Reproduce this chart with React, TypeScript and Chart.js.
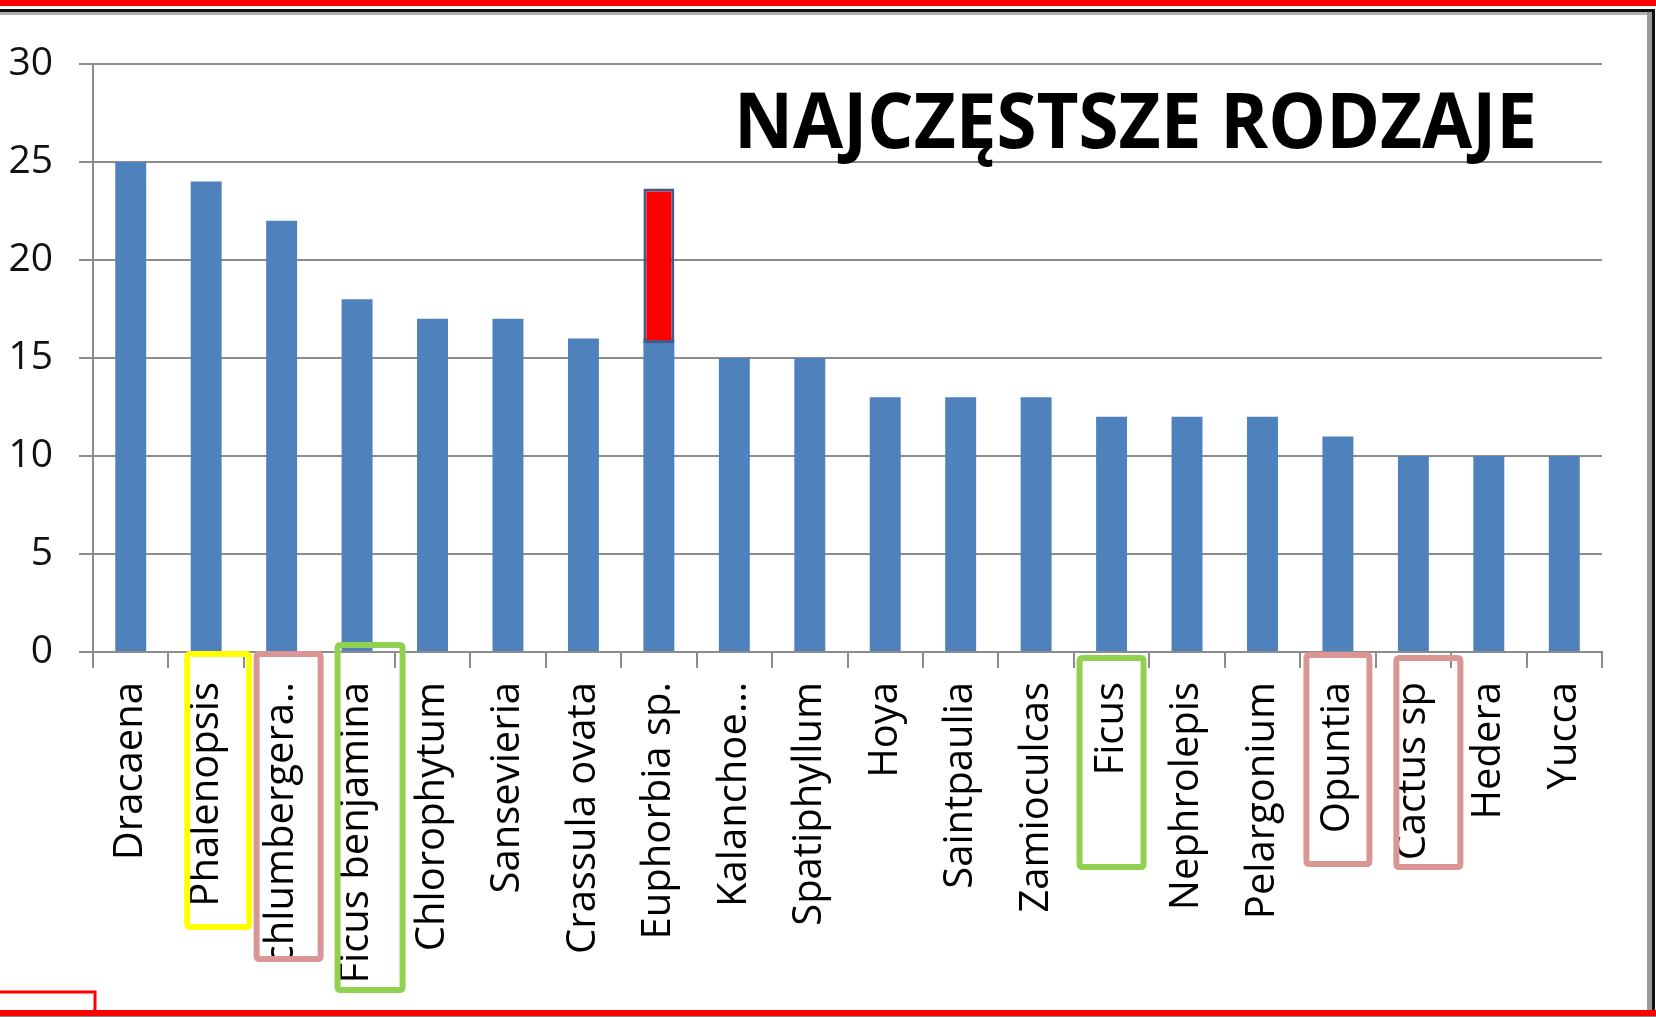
import React, { useEffect, useRef } from 'react';
import { Chart, registerables } from 'chart.js';

Chart.register(...registerables);

// ---- data ----
const categories = [
  'Dracaena',
  'Phalenopsis',
  'Schlumbergera..',
  'Ficus benjamina',
  'Chlorophytum',
  'Sansevieria',
  'Crassula ovata',
  'Euphorbia sp.',
  'Kalanchoe…',
  'Spatiphyllum',
  'Hoya',
  'Saintpaulia',
  'Zamioculcas',
  'Ficus',
  'Nephrolepis',
  'Pelargonium',
  'Opuntia',
  'Cactus sp',
  'Hedera',
  'Yucca',
];
const counts = [25, 24, 22, 18, 17, 17, 16, 16, 15, 15, 13, 13, 13, 12, 12, 12, 11, 10, 10, 10];
const highlightIndex = 7;
const highlightRange: [number, number] = [15.75, 23.65];
const yMin = 0;
const yMax = 30;
const yStep = 5;
const titleText = 'NAJCZĘSTSZE RODZAJE';

// annotation boxes around some category labels (index, colour, offset/size in px)
const labelBoxes = [
  { index: 1, color: '#ffff00', dx: 12, w: 68, top: 651, bottom: 930, mask: false },
  { index: 2, color: '#d99694', dx: 7, w: 70, top: 651, bottom: 962, mask: true },
  { index: 3, color: '#92d050', dx: 13, w: 71, top: 642, bottom: 993, mask: false },
  { index: 13, color: '#92d050', dx: 0, w: 70, top: 655, bottom: 870, mask: false },
  { index: 16, color: '#d99694', dx: 0, w: 69, top: 652, bottom: 867, mask: false },
  { index: 17, color: '#d99694', dx: 15, w: 70, top: 655, bottom: 870, mask: false },
];

const W = 1656;
const H = 1017;
const FONT = "'Open Sans', 'DejaVu Sans', sans-serif";

function roundRectPath(ctx: CanvasRenderingContext2D, x: number, y: number, w: number, h: number, r: number) {
  ctx.beginPath();
  ctx.moveTo(x + r, y);
  ctx.lineTo(x + w - r, y);
  ctx.quadraticCurveTo(x + w, y, x + w, y + r);
  ctx.lineTo(x + w, y + h - r);
  ctx.quadraticCurveTo(x + w, y + h, x + w - r, y + h);
  ctx.lineTo(x + r, y + h);
  ctx.quadraticCurveTo(x, y + h, x, y + h - r);
  ctx.lineTo(x, y + r);
  ctx.quadraticCurveTo(x, y, x + r, y);
  ctx.closePath();
}

const decorPlugin = {
  id: 'decor',
  afterDraw(chart: any) {
    const ctx: CanvasRenderingContext2D = chart.ctx;
    const xs = chart.scales.x;

    // title
    ctx.save();
    ctx.font = `700 77px ${FONT}`;
    const tw = ctx.measureText(titleText).width;
    ctx.translate(734, 148);
    ctx.scale(803 / tw, 1);
    ctx.fillStyle = '#000000';
    ctx.textAlign = 'left';
    ctx.textBaseline = 'alphabetic';
    ctx.fillText(titleText, 0, 0);
    ctx.restore();

    // label highlight boxes
    ctx.save();
    for (const b of labelBoxes) {
      const cx = xs.getPixelForValue(b.index) + b.dx;
      const x0 = cx - b.w / 2;
      if (b.mask) {
        ctx.fillStyle = '#ffffff';
        ctx.fillRect(x0, b.bottom - 6, b.w, 40);
      }
      ctx.lineWidth = 6;
      ctx.strokeStyle = b.color;
      roundRectPath(ctx, x0 + 3, b.top + 3, b.w - 6, b.bottom - b.top - 6, 3);
      ctx.stroke();
    }
    ctx.restore();

    // frame decorations of the screenshot
    ctx.save();
    ctx.fillStyle = '#ff0000';
    ctx.fillRect(0, 0, W, 6);
    ctx.fillStyle = '#b0b0b0';
    ctx.fillRect(0, 12, 1649, 3);
    ctx.fillStyle = '#111111';
    ctx.fillRect(0, 9, 1655, 3);
    ctx.fillStyle = '#9a9a9a';
    ctx.fillRect(1647, 12, 5, 998);
    ctx.fillStyle = '#111111';
    ctx.fillRect(1652, 9, 3, 1001);
    ctx.fillStyle = '#ff0000';
    ctx.fillRect(0, 1010, W, 6);
    ctx.fillStyle = '#888888';
    ctx.fillRect(0, 1016, W, 1);
    ctx.strokeStyle = '#ff0000';
    ctx.lineWidth = 3;
    ctx.strokeRect(-3, 992, 98, 20);
    ctx.restore();
  },
};

export default function App() {
  const canvasRef = useRef<HTMLCanvasElement | null>(null);

  useEffect(() => {
    const canvas = canvasRef.current;
    if (!canvas) return;
    const highlightData = categories.map((_, i) => (i === highlightIndex ? highlightRange : null));

    const chart = new Chart(canvas, {
      type: 'bar',
      data: {
        labels: categories,
        datasets: [
          {
            label: 'highlight',
            data: highlightData as any,
            backgroundColor: '#ff0000',
            borderColor: '#3a5f8e',
            borderWidth: 3,
            borderSkipped: false,
            grouped: false,
            order: 0,
            categoryPercentage: 1,
            barPercentage: 0.41,
          },
          {
            label: 'count',
            data: counts,
            backgroundColor: '#4f81bd',
            borderWidth: 0,
            grouped: false,
            order: 1,
            categoryPercentage: 1,
            barPercentage: 0.41,
          },
        ],
      },
      options: {
        responsive: false,
        animation: false,
        devicePixelRatio: 1,
        layout: { padding: { top: 64, right: 54, left: 0, bottom: 0 } },
        plugins: {
          legend: { display: false },
          tooltip: { enabled: false },
          title: { display: false },
        },
        scales: {
          x: {
            type: 'category',
            offset: true,
            grid: {
              display: true,
              offset: true,
              drawOnChartArea: false,
              drawTicks: true,
              tickLength: 16,
              color: '#8c8c8c',
              lineWidth: 2,
            },
            border: { display: true, color: '#8c8c8c', width: 2 },
            ticks: {
              autoSkip: false,
              minRotation: 90,
              maxRotation: 90,
              padding: 14,
              color: '#000000',
              font: { family: FONT, size: 40 },
            },
            afterFit: (s: any) => {
              s.height = 365;
            },
          },
          y: {
            min: yMin,
            max: yMax,
            grid: {
              color: '#8c8c8c',
              lineWidth: 2,
              drawTicks: true,
              tickLength: 14,
            },
            border: { display: true, color: '#8c8c8c', width: 2 },
            ticks: {
              stepSize: yStep,
              padding: 26,
              color: '#111111',
              font: { family: FONT, size: 39 },
            },
            afterFit: (s: any) => {
              s.width = 93;
            },
          },
        },
      },
      plugins: [decorPlugin],
    });

    return () => {
      chart.destroy();
    };
  }, []);

  return (
    <div style={{ position: 'absolute', left: 0, top: 0, width: W, height: H, background: '#ffffff' }}>
      <canvas ref={canvasRef} width={W} height={H} style={{ display: 'block', width: W, height: H }} />
    </div>
  );
}
